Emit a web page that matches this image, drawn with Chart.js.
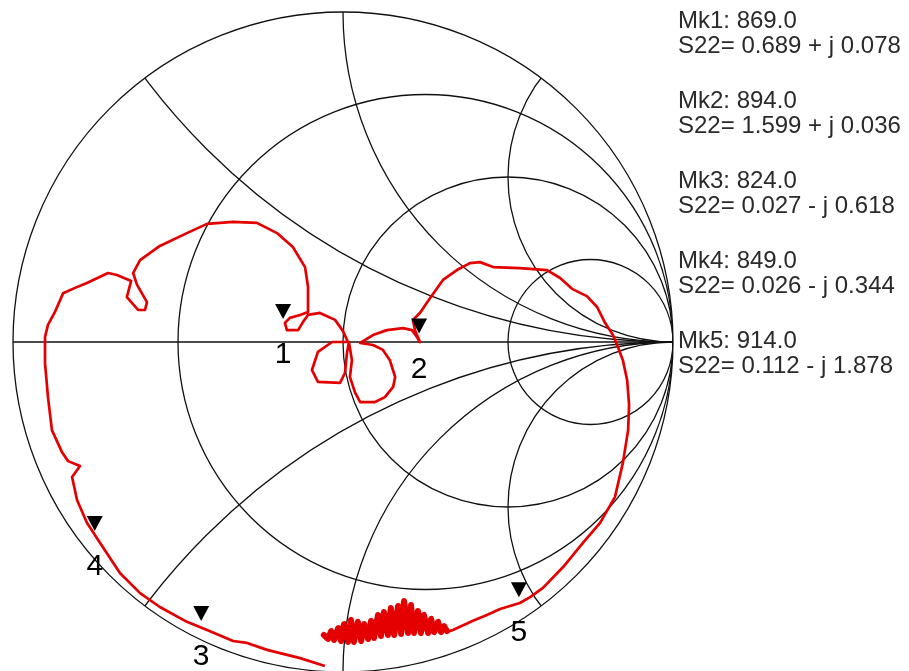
<!DOCTYPE html>
<html>
<head>
<meta charset="utf-8">
<script src="https://cdn.jsdelivr.net/npm/chart.js@4.4.1/dist/chart.umd.min.js"></script>
<style>
  body { margin: 0; background: #fff; overflow: hidden; }
  #wrap { position: relative; width: 909px; height: 671px; }
  #panel { position: absolute; left: 678px; top: 0; font-family: "Liberation Sans", Arial, sans-serif; font-size: 24px; color: #2a2a2a; }
  .line { position: absolute; left: 0; white-space: nowrap; line-height: 26px; }
</style>
</head>
<body>
<div id="wrap">
  <canvas id="smith" width="909" height="671"></canvas>
  <div id="panel"></div>
</div>
<script>
// Smith chart grid values (normalized)
const resistanceCircles = [1 / 3, 1, 3];
const reactanceArcs = [0.5, 1, 2];

// markers: frequency and normalized S22 impedance read from the readout
const markerNames = ['1', '2', '3', '4', '5'];
const markerFreq = ['869.0', '894.0', '824.0', '849.0', '914.0'];
const markerR = [0.689, 1.599, 0.027, 0.026, 0.112];
const markerX = [0.078, 0.036, -0.618, -0.344, -1.878];

const traceRe = [
  -0.055, -0.130, -0.230, -0.291, -0.333, -0.412, -0.473, -0.555, -0.615, -0.676,
  -0.736, -0.776, -0.806, -0.821, -0.797, -0.833, -0.852, -0.882, -0.894, -0.903,
  -0.903, -0.894, -0.873, -0.848, -0.812, -0.776, -0.712, -0.685, -0.642, -0.655,
  -0.621, -0.600, -0.594, -0.624, -0.636, -0.615, -0.555, -0.473, -0.412, -0.333,
  -0.261, -0.200, -0.152, -0.115, -0.106, -0.106, -0.130, -0.161, -0.176, -0.170,
  -0.136, -0.121, -0.106, -0.070, -0.024, 0.000, 0.015, -0.033, -0.076, -0.094,
  -0.076, -0.009, 0.006, 0.012, 0.018, 0.027, 0.021, 0.036, 0.052, 0.097,
  0.127, 0.152, 0.158, 0.142, 0.121, 0.091, 0.052, 0.091, 0.133, 0.182,
  0.209, 0.224, 0.233, 0.218, 0.212, 0.233, 0.264, 0.303, 0.345, 0.385,
  0.415, 0.455, 0.536, 0.618, 0.658, 0.694, 0.739, 0.770, 0.794, 0.818,
  0.833, 0.848, 0.861, 0.867, 0.864, 0.848, 0.824, 0.779, 0.727, 0.667,
  0.606, 0.567, 0.536, 0.476, 0.436, 0.394, 0.333, 0.315
];
const traceIm = [
  -0.982, -0.958, -0.933, -0.912, -0.906, -0.873, -0.848, -0.803, -0.761, -0.700,
  -0.609, -0.548, -0.479, -0.409, -0.376, -0.361, -0.333, -0.267, -0.167, -0.064,
  0.015, 0.052, 0.091, 0.148, 0.164, 0.179, 0.209, 0.203, 0.185, 0.136,
  0.097, 0.097, 0.121, 0.173, 0.209, 0.248, 0.291, 0.330, 0.358, 0.364,
  0.361, 0.330, 0.288, 0.227, 0.167, 0.091, 0.082, 0.073, 0.058, 0.036,
  0.036, 0.061, 0.082, 0.088, 0.067, 0.033, 0.000, 0.000, -0.030, -0.085,
  -0.121, -0.124, -0.094, -0.033, 0.000, -0.055, -0.106, -0.152, -0.182, -0.182,
  -0.167, -0.136, -0.106, -0.055, -0.024, -0.009, -0.003, 0.021, 0.036, 0.042,
  0.036, 0.015, 0.000, 0.036, 0.067, 0.088, 0.133, 0.188, 0.218, 0.239,
  0.242, 0.227, 0.224, 0.218, 0.194, 0.161, 0.139, 0.106, 0.058, 0.021,
  -0.015, -0.055, -0.115, -0.191, -0.267, -0.367, -0.470, -0.548, -0.609, -0.682,
  -0.745, -0.773, -0.791, -0.809, -0.827, -0.845, -0.873, -0.879
];

// noisy cluster at the end of the sweep (continues from the trace)
const clusterRe = [
  0.315, 0.306, 0.297, 0.288, 0.276, 0.267, 0.258, 0.245, 0.236, 0.227,
  0.215, 0.206, 0.197, 0.185, 0.176, 0.167, 0.155, 0.145, 0.136, 0.124,
  0.115, 0.106, 0.094, 0.085, 0.076, 0.064, 0.055, 0.045, 0.033, 0.024,
  0.015, 0.003, -0.006, -0.015, -0.027, -0.036, -0.045, -0.058
];
const clusterIm = [
  -0.876, -0.861, -0.879, -0.848, -0.879, -0.839, -0.882, -0.827, -0.882, -0.815,
  -0.882, -0.797, -0.882, -0.785, -0.885, -0.800, -0.888, -0.806, -0.888, -0.818,
  -0.891, -0.827, -0.897, -0.845, -0.900, -0.855, -0.906, -0.848, -0.909, -0.842,
  -0.909, -0.855, -0.906, -0.867, -0.903, -0.876, -0.900, -0.888
];

function toGamma(r, x) {
  // (z - 1) / (z + 1)
  const d = (r + 1) * (r + 1) + x * x;
  return { x: ((r - 1) * (r + 1) + x * x) / d, y: (x * (r + 1) - (r - 1) * x) / d };
}

const markerPts = markerR.map((r, i) => toGamma(r, markerX[i]));

// readout panel on the right
const panel = document.getElementById('panel');
markerNames.forEach((n, i) => {
  const sign = markerX[i] < 0 ? '-' : '+';
  const l1 = document.createElement('div');
  l1.className = 'line';
  l1.style.top = (7 + 80 * i) + 'px';
  l1.textContent = 'Mk' + n + ': ' + markerFreq[i];
  const l2 = document.createElement('div');
  l2.className = 'line';
  l2.style.top = (32 + 80 * i) + 'px';
  l2.textContent = 'S22= ' + markerR[i].toFixed(3) + ' ' + sign + ' j ' + Math.abs(markerX[i]).toFixed(3);
  panel.appendChild(l1);
  panel.appendChild(l2);
});

const smithGrid = {
  id: 'smithGrid',
  beforeDatasetsDraw(chart) {
    const { ctx, scales: { x, y } } = chart;
    const px = v => x.getPixelForValue(v);
    const py = v => y.getPixelForValue(v);
    const unit = px(1) - px(0);
    ctx.save();
    ctx.strokeStyle = '#111';
    ctx.lineWidth = 1.3;
    ctx.beginPath();
    ctx.arc(px(0), py(0), unit, 0, Math.PI * 2);
    ctx.stroke();
    ctx.beginPath();
    ctx.moveTo(px(-1), py(0));
    ctx.lineTo(px(1), py(0));
    ctx.stroke();
    // everything else stays inside the unit circle
    ctx.beginPath();
    ctx.arc(px(0), py(0), unit, 0, Math.PI * 2);
    ctx.clip();
    resistanceCircles.forEach(r => {
      ctx.beginPath();
      ctx.arc(px(r / (1 + r)), py(0), unit / (1 + r), 0, Math.PI * 2);
      ctx.stroke();
    });
    reactanceArcs.forEach(xv => {
      [xv, -xv].forEach(s => {
        ctx.beginPath();
        ctx.arc(px(1), py(1 / s), unit / Math.abs(s), 0, Math.PI * 2);
        ctx.stroke();
      });
    });
    ctx.restore();
  },
  afterDatasetsDraw(chart) {
    const { ctx, scales: { x, y } } = chart;
    ctx.save();
    ctx.fillStyle = '#000';
    ctx.font = '30px "Liberation Sans", Arial, sans-serif';
    ctx.textAlign = 'center';
    ctx.textBaseline = 'middle';
    markerPts.forEach((p, i) => {
      const cx = x.getPixelForValue(p.x);
      const cy = y.getPixelForValue(p.y);
      // downward triangle sitting just above the point
      ctx.beginPath();
      ctx.moveTo(cx - 8, cy - 20);
      ctx.lineTo(cx + 8, cy - 20);
      ctx.lineTo(cx, cy - 5);
      ctx.closePath();
      ctx.fill();
      ctx.fillText(markerNames[i], cx, cy + 31);
    });
    ctx.restore();
  }
};

new Chart(document.getElementById('smith'), {
  type: 'scatter',
  data: {
    datasets: [{
      label: 'S22',
      data: traceRe.map((v, i) => ({ x: v, y: traceIm[i] })),
      showLine: true,
      borderColor: 'rgb(228, 0, 0)',
      borderWidth: 2.7,
      borderJoinStyle: 'round',
      pointRadius: 0,
      tension: 0
    }, {
      label: 'S22 end',
      data: clusterRe.map((v, i) => ({ x: v, y: clusterIm[i] })),
      showLine: true,
      borderColor: 'rgb(228, 0, 0)',
      borderWidth: 6,
      borderJoinStyle: 'round',
      borderCapStyle: 'round',
      pointRadius: 0,
      tension: 0
    }]
  },
  options: {
    responsive: false,
    animation: false,
    devicePixelRatio: 1,
    layout: { padding: { left: 13, right: 236, top: 12, bottom: 0 } },
    plugins: { legend: { display: false }, tooltip: { enabled: false } },
    scales: {
      x: { type: 'linear', min: -1, max: 1, display: false },
      y: { type: 'linear', min: -0.997, max: 1, display: false }
    }
  },
  plugins: [smithGrid]
});
</script>
</body>
</html>
